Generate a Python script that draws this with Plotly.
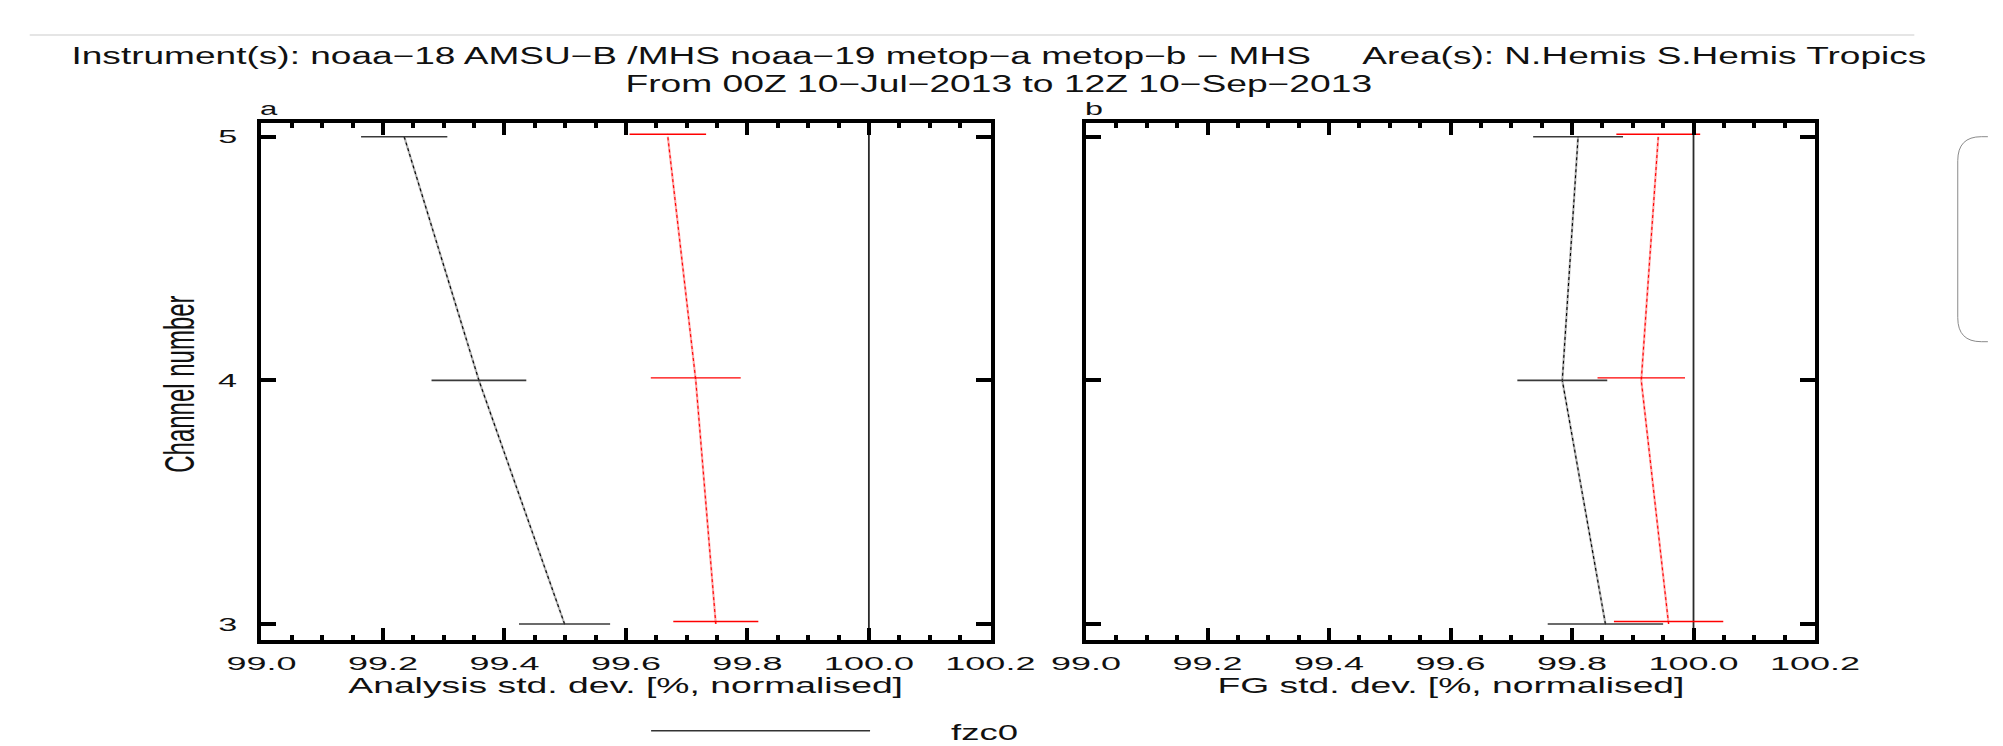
import json
import plotly.graph_objects as go

# ---------------- data ----------------
channels = [3, 4, 5]

# panel a: analysis std. dev. [% normalised]
anl_ctrl = [99.499, 99.358, 99.235]      # black
anl_ctrl_err = [0.075, 0.078, 0.071]
anl_exp = [99.748, 99.715, 99.669]       # red
anl_exp_err = [0.070, 0.074, 0.063]

# panel b: first-guess std. dev. [% normalised]
fg_ctrl = [99.855, 99.784, 99.810]       # black
fg_ctrl_err = [0.095, 0.074, 0.074]
fg_exp = [99.959, 99.914, 99.942]        # red
fg_exp_err = [0.090, 0.072, 0.069]

reference_value = 100.0

x_tick_vals = [99.0, 99.2, 99.4, 99.6, 99.8, 100.0, 100.2]
x_tick_text = ["99.0", "99.2", "99.4", "99.6", "99.8", "100.0", "100.2"]
y_tick_vals = [3, 4, 5]
y_tick_text = ["3", "4", "5"]

title_line1 = ("Instrument(s): noaa\u221218 AMSU\u2212B /MHS noaa\u221219 metop\u2212a metop\u2212b \u2212 MHS"
               "\u00a0\u00a0\u00a0\u00a0\u00a0Area(s): N.Hemis S.Hemis Tropics")
title_line2 = "From 00Z 10\u2212Jul\u22122013 to 12Z 10\u2212Sep\u22122013"
xtitle_a = "Analysis std. dev. [%, normalised]"
xtitle_b = "FG std. dev. [%, normalised]"
ytitle = "Channel number"
legend_label = "fzc0"

# ---------------- layout helpers ----------------
W, H = 2003, 746
FONT = "Liberation Sans, Arial, Helvetica, sans-serif"


def px(x):
    return x / W


def py(y):
    return 1 - y / H


X_RANGE = [98.9995, 100.2005]
Y_RANGE = [2.9364, 5.0575]
RED_OFFSET = 0.01

fig = go.Figure()

panels = [
    ("x", "y", anl_ctrl, anl_ctrl_err, anl_exp, anl_exp_err),
    ("x2", "y2", fg_ctrl, fg_ctrl_err, fg_exp, fg_exp_err),
]

for xa, ya, ctrl, ctrl_err, exp, exp_err in panels:
    common = dict(xaxis=xa, yaxis=ya, showlegend=False, hoverinfo="skip")
    # black series line (light base + dotted overlay)
    fig.add_trace(go.Scatter(x=ctrl, y=channels, mode="lines",
                             line=dict(color="#b4b4b4", width=2.2), **common))
    fig.add_trace(go.Scatter(x=ctrl, y=channels, mode="lines",
                             line=dict(color="#000000", width=1.1, dash="dot"), **common))
    # red series line
    fig.add_trace(go.Scatter(x=exp, y=channels, mode="lines",
                             line=dict(color="#ffa8a8", width=2.2), **common))
    fig.add_trace(go.Scatter(x=exp, y=channels, mode="lines",
                             line=dict(color="#ff0000", width=1.1, dash="dot"), **common))
    # error bars
    fig.add_trace(go.Scatter(x=ctrl, y=channels, mode="markers",
                             marker=dict(size=1, color="#3a3a3a"),
                             error_x=dict(type="data", array=ctrl_err, visible=True,
                                          width=0, thickness=1.6, color="#3a3a3a"),
                             **common))
    fig.add_trace(go.Scatter(x=exp, y=[c + RED_OFFSET for c in channels], mode="markers",
                             marker=dict(size=1, color="#ff0000"),
                             error_x=dict(type="data", array=exp_err, visible=True,
                                          width=0, thickness=1.4, color="#ff0000"),
                             **common))

xaxis_style = dict(
    range=X_RANGE, tickmode="array", tickvals=x_tick_vals, ticktext=x_tick_text,
    ticks="inside", ticklen=12, tickwidth=4, tickcolor="black",
    showline=True, linewidth=4, linecolor="black", mirror="ticks",
    showgrid=False, zeroline=False,
    tickfont=dict(family=FONT, size=18, color="#111111"),
    ticklabelstandoff=5,
    minor=dict(tickmode="linear", tick0=99.0, dtick=0.05, ticks="inside",
               ticklen=5, tickwidth=4, tickcolor="black", showgrid=False),
)
yaxis_style = dict(
    range=Y_RANGE, tickmode="array", tickvals=y_tick_vals, ticktext=y_tick_text,
    ticks="inside", ticklen=15, tickwidth=4, tickcolor="black",
    showline=True, linewidth=4, linecolor="black", mirror="ticks",
    showgrid=False, zeroline=False,
    tickfont=dict(family=FONT, size=19, color="#111111"),
    ticklabelstandoff=12,
)

y_dom = [py(639.5), py(122.7)]
fig.update_layout(
    width=W, height=H, autosize=False,
    margin=dict(l=0, r=0, t=0, b=0),
    paper_bgcolor="white", plot_bgcolor="white",
    xaxis=dict(domain=[px(249), px(993)], anchor="y", **xaxis_style),
    yaxis=dict(domain=y_dom, anchor="x", **yaxis_style),
    xaxis2=dict(domain=[px(1090), px(1834)], anchor="y2", **xaxis_style),
    yaxis2=dict(domain=y_dom, anchor="x2", showticklabels=False,
                **{k: v for k, v in yaxis_style.items()}),
)

# reference lines at 100 %
shapes = []
for xr, yr in [("x", "y domain"), ("x2", "y2 domain")]:
    shapes.append(dict(type="line", xref=xr, yref=yr, x0=reference_value, x1=reference_value,
                       y0=0, y1=1, line=dict(color="#2a2a2a", width=1.8), layer="below"))
# legend key line
shapes.append(dict(type="line", xref="paper", yref="paper", x0=px(646.7), x1=px(870),
                   y0=py(730.7), y1=py(730.7), line=dict(color="#333333", width=1.5)))
# page decorations of the screenshot
shapes.append(dict(type="line", xref="paper", yref="paper", x0=px(13), x1=px(1935),
                   y0=py(35), y1=py(35), line=dict(color="#dcdcdc", width=1.5)))
r = 24
path = (f"M {px(2010)},{py(136.7)} L {px(1979.3 + r)},{py(136.7)} "
        f"Q {px(1979.3)},{py(136.7)} {px(1979.3)},{py(136.7 + r)} "
        f"L {px(1979.3)},{py(341.7 - r)} "
        f"Q {px(1979.3)},{py(341.7)} {px(1979.3 + r)},{py(341.7)} "
        f"L {px(2010)},{py(341.7)}")
shapes.append(dict(type="path", xref="paper", yref="paper", path=path,
                   line=dict(color="#8a8a8a", width=1)))
fig.update_layout(shapes=shapes)

# annotations (text) and their horizontal stretch specs
ann = []
spec = []


def add_text(text, x, y, size, xanchor="center", mode="middle", w=None, s=None, angle=0):
    ann.append(dict(text=text, x=px(x), y=py(y), xref="paper", yref="paper",
                    xanchor=xanchor, yanchor="middle", showarrow=False, textangle=angle,
                    font=dict(family=FONT, size=size, color="#111111")))
    spec.append(dict(mode=mode, w=w, s=s))


add_text(title_line1, 1001.5, 56, 23, w=1855)
add_text(title_line2, 1001.5, 84, 23, w=747)
add_text("a", 246, 108.4, 19, xanchor="left", mode="left", w=18)
add_text("b", 1087, 108.4, 19, xanchor="left", mode="left", w=18)
add_text(xtitle_a, 621, 685, 22, w=555)
add_text(xtitle_b, 1462, 685, 22, w=467)
add_text(ytitle, 165, 384, 24, mode="vy", s=1.75, angle=-90)
add_text(legend_label, 950, 732.4, 22, xanchor="left", mode="left", w=67)
fig.update_layout(annotations=ann)

post = """
var gd = document.getElementById('{plot_id}');
var SPEC = __SPEC__;
var TICK_S = 2.0, YTICK_S = 1.8, YTICK_DX = -4;
function apply(el, sx, sy, mode, dx) {
  var bb = el.getBBox();
  var cx = bb.x + bb.width / 2, cy = bb.y + bb.height / 2;
  if (mode === 'left') cx = bb.x;
  if (mode === 'right') cx = bb.x + bb.width;
  var t = el.getAttribute('transform') || '';
  el.setAttribute('transform', (t + ' translate(' + (cx + (dx || 0)) + ',' + cy + ') scale(' + sx + ',' + sy +
      ') translate(' + (-cx) + ',' + (-cy) + ')').trim());
}
gd.querySelectorAll('g.annotation').forEach(function (g) {
  var i = parseInt(g.getAttribute('data-index'));
  var sp = SPEC[i]; if (!sp) return;
  var el = g.querySelector('text.annotation-text'); if (!el) return;
  if (sp.mode === 'vy') { apply(el, 1, sp.s, 'middle', 0); return; }
  var s = sp.w ? sp.w / el.getBBox().width : sp.s;
  apply(el, s, 1, sp.mode, 0);
});
gd.querySelectorAll('g.xtick text, g.x2tick text').forEach(function (el) { apply(el, TICK_S, 1, 'middle', 0); });
gd.querySelectorAll('g.ytick text').forEach(function (el) { apply(el, YTICK_S, 1, 'right', YTICK_DX); });
""".replace("__SPEC__", json.dumps(spec))

fig.write_html("out.html", config={"responsive": False, "displayModeBar": False},
               post_script=post)
